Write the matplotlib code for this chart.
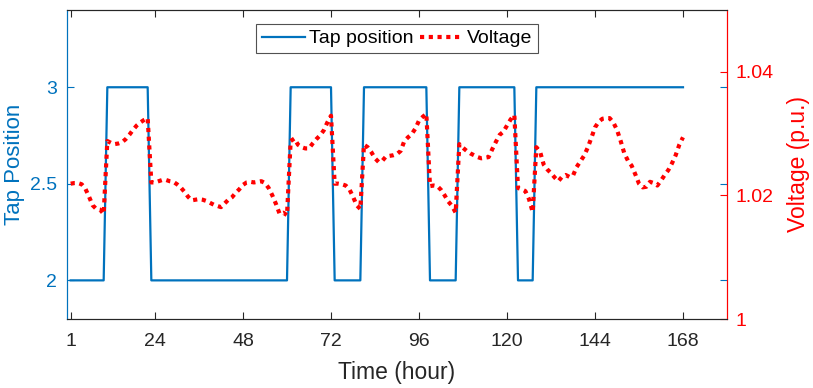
import matplotlib
matplotlib.use("Agg")
import matplotlib.pyplot as plt
import numpy as np

plt.rcParams['font.family'] = ['Liberation Sans', 'DejaVu Sans']

hours = np.arange(1, 169)

# tap position, hour by hour (changes)
tap = [2] * 10 + [3] * 12 + [2] * 38 + [3] * 12 + [2] * 8 + [3] * 18 + [2] * 8 \
    + [3] * 16 + [2] * 5 + [3] * 41

voltage = [
    1.0219, 1.0220, 1.0220, 1.0218, 1.0211, 1.0198, 1.0184, 1.0178, 1.0177, 1.0170,
    1.0288, 1.0285, 1.0283, 1.0284, 1.0286, 1.0291, 1.0298, 1.0306, 1.0313, 1.0318,
    1.0322, 1.0325, 1.0221, 1.0221, 1.0223, 1.0225, 1.0225, 1.0223, 1.0222, 1.0218,
    1.0213, 1.0206, 1.0198, 1.0192, 1.0193, 1.0194, 1.0193, 1.0191, 1.0188, 1.0185,
    1.0183, 1.0181, 1.0187, 1.0193, 1.0197, 1.0204, 1.0210, 1.0217, 1.0221, 1.0222,
    1.0221, 1.0222, 1.0223, 1.0220, 1.0212, 1.0200, 1.0186, 1.0170, 1.0172, 1.0168,
    1.0288, 1.0292, 1.0282, 1.0278, 1.0276, 1.0276, 1.0284, 1.0291, 1.0297, 1.0305,
    1.0318, 1.0329, 1.0219, 1.0219, 1.0218, 1.0216, 1.0210, 1.0198, 1.0184, 1.0178,
    1.0282, 1.0278, 1.0270, 1.0260, 1.0254, 1.0256, 1.0263, 1.0264, 1.0265, 1.0267,
    1.0272, 1.0288, 1.0294, 1.0299, 1.0308, 1.0321, 1.0327, 1.0332, 1.0215, 1.0216,
    1.0215, 1.0209, 1.0200, 1.0190, 1.0183, 1.0172, 1.0283, 1.0277, 1.0272, 1.0268,
    1.0265, 1.0262, 1.0260, 1.0261, 1.0262, 1.0275, 1.0287, 1.0298, 1.0303, 1.0313,
    1.0323, 1.0330, 1.0212, 1.0210, 1.0207, 1.0194, 1.0173, 1.0278, 1.0271, 1.0250,
    1.0242, 1.0236, 1.0229, 1.0223, 1.0230, 1.0233, 1.0230, 1.0232, 1.0246, 1.0255,
    1.0264, 1.0277, 1.0293, 1.0310, 1.0319, 1.0324, 1.0325, 1.0325, 1.0318, 1.0306,
    1.0288, 1.0268, 1.0256, 1.0248, 1.0234, 1.0219, 1.0213, 1.0214, 1.0222, 1.0220,
    1.0216, 1.0224, 1.0233, 1.0241, 1.0252, 1.0265, 1.0282, 1.0294,
]

xticks = [1, 24, 48, 72, 96, 120, 144, 168]
tap_ticks = [2, 2.5, 3]
volt_ticks = [1, 1.02, 1.04]

blue = '#0072BD'
red = '#FF0000'
grey = '#262626'

fig = plt.figure(figsize=(8.13, 3.88), dpi=100)
ax = fig.add_axes([67 / 813, 69 / 388, 660 / 813, 309 / 388])
ax2 = ax.twinx()

l1, = ax.plot(hours, tap, color=blue, lw=1.6, label='Tap position')
l2, = ax2.plot(hours, voltage, color=red, lw=3, linestyle=(0, (1, 1.1)),
               dash_capstyle='butt', label='Voltage')

ax.set_xlim(0, 180)
ax.set_ylim(1.8, 3.4)
ax2.set_ylim(1, 1.05)
ax.set_xticks(xticks)
ax.set_yticks(tap_ticks)
ax.set_yticklabels(['2', '2.5', '3'])
ax2.set_yticks(volt_ticks)
ax2.set_yticklabels(['1', '1.02', '1.04'])

ax.tick_params(axis='x', direction='in', length=5, top=True, colors=grey,
               labelsize=14, pad=10)
ax.tick_params(axis='y', direction='in', length=5, right=True, colors=blue,
               labelsize=14, pad=7)
ax2.tick_params(axis='y', direction='in', length=5, colors=red,
                labelsize=14, pad=6)

for a in (ax, ax2):
    a.spines['top'].set_color(grey)
    a.spines['bottom'].set_color(grey)
    a.spines['left'].set_color(blue)
    a.spines['right'].set_color(red)

ax.set_xlabel('Time (hour)', fontsize=16.5, color=grey, labelpad=8)
ax.set_ylabel('Tap Position', fontsize=16, color=blue, labelpad=4)
ax2.set_ylabel('Voltage (p.u.)', fontsize=16.5, color=red, labelpad=10)

leg = ax2.legend([l1, l2], ['Tap position', 'Voltage'], loc='upper center',
                 ncol=2, fontsize=14, frameon=True, fancybox=False,
                 handlelength=2.2, handletextpad=0.2, columnspacing=0.35,
                 borderpad=0.3, borderaxespad=0, bbox_to_anchor=(0.5, 0.955))
leg.get_frame().set_edgecolor(grey)
leg.get_frame().set_linewidth(0.8)

fig.savefig('out.png', dpi=100)
